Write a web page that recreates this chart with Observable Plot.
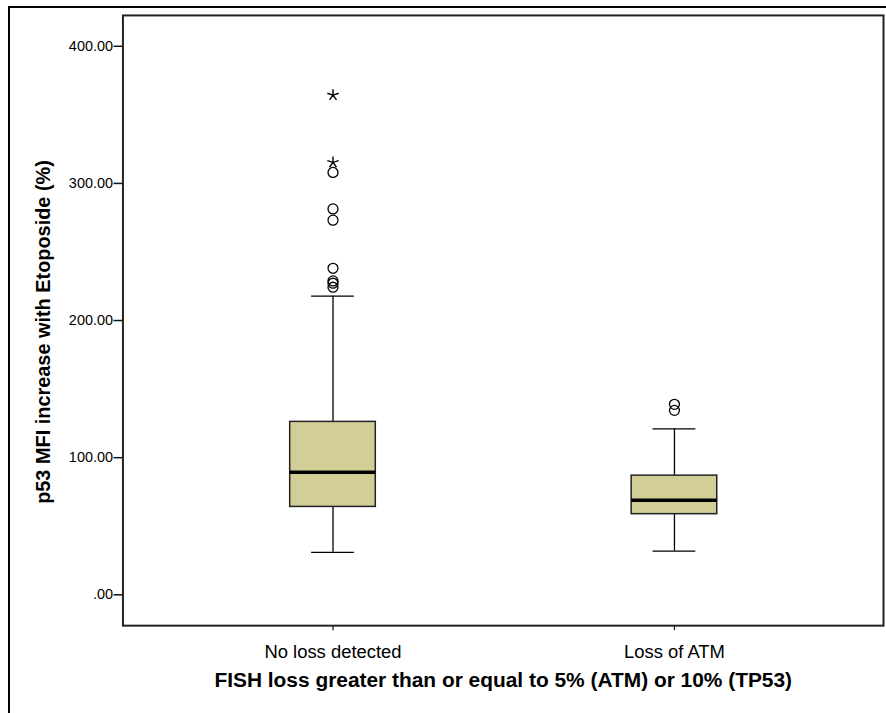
<!DOCTYPE html>
<html>
<head>
<meta charset="utf-8">
<script src="https://cdn.jsdelivr.net/npm/d3@7"></script>
<script src="https://cdn.jsdelivr.net/npm/@observablehq/plot@0.6"></script>
<style>
  html, body { margin: 0; padding: 0; background: #fff; overflow: hidden; width: 886px; height: 713px; }
  #wrap { position: relative; width: 886px; height: 713px; overflow: hidden; }
  #outer { position: absolute; left: 8px; top: 6px; width: 1000px; height: 1000px; border-left: 2px solid #000; border-top: 2px solid #000; pointer-events: none; }
  #chart { position: absolute; left: 0; top: 0; }
</style>
</head>
<body>
<div id="wrap"><div id="chart"></div><div id="outer"></div></div>
<script>
// ---- data ----
const categories = ["No loss detected", "Loss of ATM"];
const whiskerLow  = [31.0, 31.9];
const q1          = [64.1, 58.8];
const median      = [89.3, 69.0];
const q3          = [126.1, 86.9];
const whiskerHigh = [217.8, 121.0];
// outliers (circles) and extreme values (stars)
const outlierGroup = ["No loss detected", "No loss detected", "No loss detected", "No loss detected", "No loss detected", "No loss detected", "No loss detected", "Loss of ATM", "Loss of ATM"];
const outlierValue = [308.0, 281.4, 273.2, 238.1, 228.9, 227.2, 224.3, 138.9, 134.5];
const extremeGroup = ["No loss detected", "No loss detected"];
const extremeValue = [364.4, 315.3];
const yTicks = [0, 100, 200, 300, 400];
const xTitle = "FISH loss greater than or equal to 5% (ATM) or 10% (TP53)";
const yTitle = "p53 MFI increase with Etoposide (%)";

const boxes = categories.map((c, i) => ({
  cat: c, lo: whiskerLow[i], q1: q1[i], med: median[i], q3: q3[i], hi: whiskerHigh[i]
}));
const outliers = outlierGroup.map((c, i) => ({cat: c, v: outlierValue[i]}));
const extremes = extremeGroup.map((c, i) => ({cat: c, v: extremeValue[i]}));

// asterisk symbol (5 spokes)
const asterisk = {
  draw(context, size) {
    const r = Math.sqrt(size / Math.PI);
    for (let k = 0; k < 5; k++) {
      const a = -Math.PI / 2 + k * 2 * Math.PI / 5;
      context.moveTo(0, 0);
      context.lineTo(r * Math.cos(a), r * Math.sin(a));
    }
  }
};

const font = "'Liberation Sans', Arial, sans-serif";

const chart = Plot.plot({
  width: 890,
  height: 713,
  marginTop: 15,
  marginBottom: 85,
  marginLeft: 123,
  marginRight: 3,
  style: {fontFamily: font, background: "transparent", color: "#000"},
  x: {domain: categories, paddingInner: 0.75, paddingOuter: 0.4855, label: null},
  y: {domain: [-22.5, 422.5], label: null},
  marks: [
    Plot.axisY({ticks: yTicks, tickFormat: d => d === 0 ? ".00" : d.toFixed(2), tickSize: 9, tickPadding: 1, fontSize: 14.5, stroke: "#111", strokeWidth: 1.5, label: null}),
    Plot.axisX({tickSize: 5, tickPadding: 14, fontSize: 18.5, stroke: "#111", strokeWidth: 1.2, label: null}),
    // whiskers
    Plot.ruleX(boxes, {x: "cat", y1: "lo", y2: "q1", stroke: "#000", strokeWidth: 1.3}),
    Plot.ruleX(boxes, {x: "cat", y1: "q3", y2: "hi", stroke: "#000", strokeWidth: 1.3}),
    Plot.tickY(boxes, {x: "cat", y: "lo", stroke: "#000", strokeWidth: 1.3, insetLeft: 21.5, insetRight: 21.5}),
    Plot.tickY(boxes, {x: "cat", y: "hi", stroke: "#000", strokeWidth: 1.3, insetLeft: 21.5, insetRight: 21.5}),
    // box
    Plot.barY(boxes, {x: "cat", y1: "q1", y2: "q3", fill: "#d2ce98", stroke: "#222", strokeWidth: 1.5}),
    Plot.tickY(boxes, {x: "cat", y: "med", stroke: "#000", strokeWidth: 3.5}),
    // outliers
    Plot.dot(outliers, {x: "cat", y: "v", r: 5, fill: "none", stroke: "#000", strokeWidth: 1.3}),
    Plot.dot(extremes, {x: "cat", y: "v", r: 6, symbol: asterisk, fill: "none", stroke: "#000", strokeWidth: 1.4}),
    Plot.frame({stroke: "#222", strokeWidth: 2}),
    // titles
    Plot.text([xTitle], {frameAnchor: "bottom", dy: 62, fontSize: 21, fontWeight: "bold", fill: "#000", textAnchor: "middle"}),
    Plot.text([yTitle], {frameAnchor: "left", dx: -80, dy: 11.5, rotate: -90, fontSize: 20, fontWeight: "bold", fill: "#000", textAnchor: "middle"})
  ]
});
document.getElementById("chart").appendChild(chart);
</script>
</body>
</html>
